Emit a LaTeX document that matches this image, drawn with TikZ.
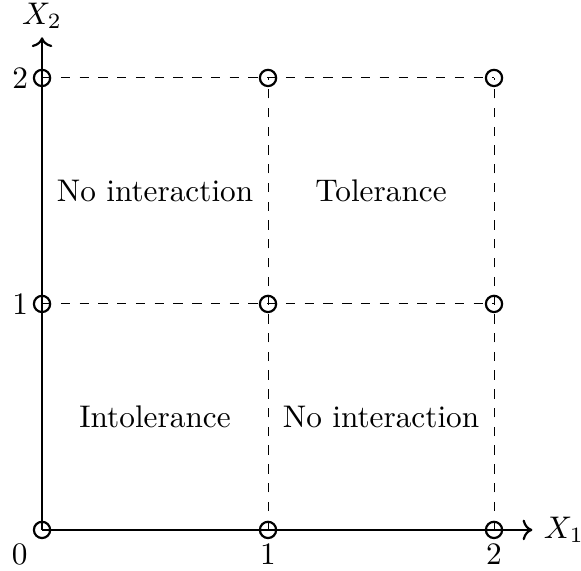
\documentclass[tikz,border=0pt]{standalone}
\usetikzlibrary{arrows.meta}
\begin{document}
\begin{tikzpicture}[x=2.54cm,y=2.54cm,
  pt/.style={circle,draw,line width=0.7pt,inner sep=0pt,minimum size=5.2pt},
  axis/.style={line width=0.7pt,->},
  grid/.style={dashed,line width=0.3pt},
  region/.style={font=\normalsize}]
\useasboundingbox (-0.186,-0.181) rectangle (2.385,2.345);
% coordinates
\coordinate (o) at (0,0);
\coordinate (xe) at (2.17,0);
\coordinate (ye) at (0,2.18);
\coordinate (c10) at (1,0);
\coordinate (c20) at (2,0);
\coordinate (c01) at (0,1);
\coordinate (c11) at (1,1);
\coordinate (c21) at (2,1);
\coordinate (c02) at (0,2);
\coordinate (c12) at (1,2);
\coordinate (c22) at (2,2);
% dashed grid
\draw[grid] (c01) -- (c21);
\draw[grid] (c02) -- (c22);
\draw[grid] (c10) -- (c12);
\draw[grid] (c20) -- (c22);
% axes
\draw[axis] (o) -- (xe) node[right] (xl) {$X_1$};
\draw[axis] (o) -- (ye) node[above,yshift=-1pt] (yl) {$X_2$};
% points
\foreach \n in {o,c10,c20,c01,c11,c21,c02,c12,c22}
  \node[pt] (p\n) at (\n) {};
% tick labels
\node[below left=-1pt] (l0) at (po.south west) {$0$};
\node[below=-2pt] (lx1) at (pc10.south) {$1$};
\node[below=-2pt] (lx2) at (pc20.south) {$2$};
\node[left=-2pt] (ly1) at (pc01.west) {$1$};
\node[left=-2pt] (ly2) at (pc02.west) {$2$};
% regions
\node[region] (r1) at (0.5,1.5) {No interaction};
\node[region] (r2) at (1.5,1.5) {Tolerance};
\node[region] (r3) at (0.5,0.5) {Intolerance};
\node[region] (r4) at (1.5,0.5) {No interaction};
\end{tikzpicture}
\end{document}
